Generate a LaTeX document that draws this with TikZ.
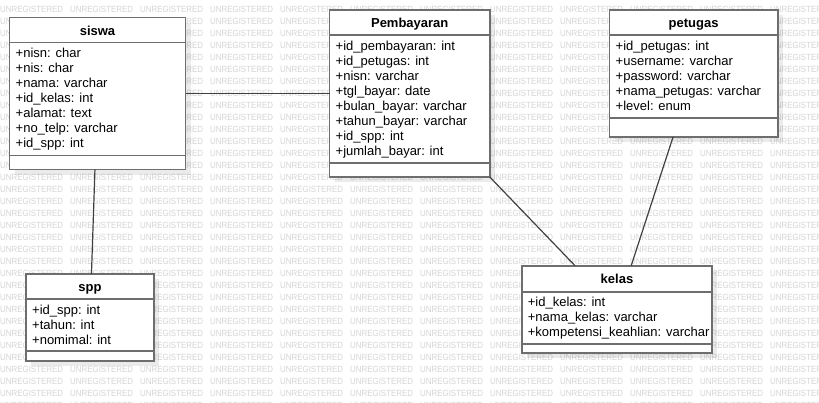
\documentclass[tikz,border=0pt]{standalone}
\usepackage{fontspec}
\setmainfont{Liberation Sans}
\usetikzlibrary{calc,shadows}
\definecolor{boxline}{HTML}{6E6E6E}
\definecolor{linkgray}{HTML}{404040}
\definecolor{wmgray}{HTML}{D4D4D4}
\begin{document}
\begin{tikzpicture}[x=1pt,y=-1pt,
  classbox/.style={draw=boxline,line width=1.8pt,fill=white,anchor=north west,
    inner sep=0pt,outer sep=0pt,
    drop shadow={shadow xshift=5pt,shadow yshift=-5pt,fill=black,opacity=.08}},
  classname/.style={font=\fontsize{13}{15}\selectfont\bfseries,anchor=base},
  attr/.style={font=\fontsize{13}{15}\selectfont,anchor=base west,inner sep=0pt},
  sepline/.style={draw=boxline,line width=1.8pt},
  watermark/.style={text=wmgray,font=\fontsize{9}{9}\selectfont,xscale=.88,anchor=west,inner sep=0pt},
  link/.style={draw=linkgray,line width=1.2pt}]
  \useasboundingbox (0,0) rectangle (819,402);
  % watermark, left out where a class box hides it whole
  \foreach \r in {0,...,33}
    \foreach \c in {0,...,11}{
      \pgfmathsetmacro\wx{70*\c}
      \pgfmathsetmacro\wy{9+12*\r}
      \pgfmathtruncatemacro\hidden{
        (\wx>=9.5 && \wx<=122.5 && \wy>=21.5 && \wy<=165.5) ||
        (\wx>=329.5 && \wx<=427 && \wy>=14 && \wy<=173) ||
        (\wx>=609.5 && \wx<=714.7 && \wy>=14 && \wy<=133) ||
        (\wx>=26 && \wx<=91 && \wy>=278 && \wy<=357) ||
        (\wx>=521.7 && \wx<=649.3 && \wy>=269.7 && \wy<=349.3)}
      \ifnum\hidden=0
        \node[watermark] (wm-\r-\c) at (\wx,\wy) {UNREGISTERED};
      \fi
    }

  \node[classbox,minimum width=176,minimum height=152] (siswa) at (9.5,17.5) {};
  \node[classname] (siswa-name) at ($(siswa.north)+(0,17.5)$) {siswa};
  \draw[sepline] ($(siswa.north west)+(0,25)$) -- ($(siswa.north east)+(0,25)$);
  \draw[sepline] ($(siswa.north west)+(0,138)$) -- ($(siswa.north east)+(0,138)$);
  \foreach \a [count=\i] in {+nisn: char,+nis: char,+nama: varchar,+id\_kelas: int,
      +alamat: text,+no\_telp: varchar,+id\_spp: int}
    \node[attr] (siswa-a\i) at ($(siswa.north west)+(6,25+15*\i)$) {\a};

  \node[classbox,minimum width=160.5,minimum height=167] (pembayaran) at (329.5,10) {};
  \node[classname] (pembayaran-name) at ($(pembayaran.north)+(0,17.5)$) {Pembayaran};
  \draw[sepline] ($(pembayaran.north west)+(0,25)$) -- ($(pembayaran.north east)+(0,25)$);
  \draw[sepline] ($(pembayaran.north west)+(0,153)$) -- ($(pembayaran.north east)+(0,153)$);
  \foreach \a [count=\i] in {+id\_pembayaran: int,+id\_petugas: int,+nisn: varchar,
      +tgl\_bayar: date,+bulan\_bayar: varchar,+tahun\_bayar: varchar,+id\_spp: int,
      +jumlah\_bayar: int}
    \node[attr] (pembayaran-a\i) at ($(pembayaran.north west)+(6,25+15*\i)$) {\a};

  \node[classbox,minimum width=168.2,minimum height=127] (petugas) at (609.5,10) {};
  \node[classname] (petugas-name) at ($(petugas.north)+(0,17.5)$) {petugas};
  \draw[sepline] ($(petugas.north west)+(0,25)$) -- ($(petugas.north east)+(0,25)$);
  \draw[sepline] ($(petugas.north west)+(0,108)$) -- ($(petugas.north east)+(0,108)$);
  \foreach \a [count=\i] in {+id\_petugas: int,+username: varchar,+password: varchar,
      +nama\_petugas: varchar,+level: enum}
    \node[attr] (petugas-a\i) at ($(petugas.north west)+(6,25+15*\i)$) {\a};

  \node[classbox,minimum width=128,minimum height=87] (spp) at (26,274) {};
  \node[classname] (spp-name) at ($(spp.north)+(0,17.5)$) {spp};
  \draw[sepline] ($(spp.north west)+(0,25)$) -- ($(spp.north east)+(0,25)$);
  \draw[sepline] ($(spp.north west)+(0,77)$) -- ($(spp.north east)+(0,77)$);
  \foreach \a [count=\i] in {+id\_spp: int,+tahun: int,+nomimal: int}
    \node[attr] (spp-a\i) at ($(spp.north west)+(6,25+15*\i)$) {\a};

  \node[classbox,minimum width=190.6,minimum height=87.6] (kelas) at (521.7,265.7) {};
  \node[classname] (kelas-name) at ($(kelas.north)+(0,17.5)$) {kelas};
  \draw[sepline] ($(kelas.north west)+(0,26)$) -- ($(kelas.north east)+(0,26)$);
  \draw[sepline] ($(kelas.north west)+(0,78.6)$) -- ($(kelas.north east)+(0,78.6)$);
  \foreach \a [count=\i] in {+id\_kelas: int,+nama\_kelas: varchar,
      +kompetensi\_keahlian: varchar}
    \node[attr] (kelas-a\i) at ($(kelas.north west)+(6,26+15*\i)$) {\a};

  \draw[link] (siswa) -- (pembayaran);
  \draw[link] (siswa) -- (spp);
  \draw[link] (pembayaran) -- (kelas);
  \draw[link] (petugas) -- (kelas);
\end{tikzpicture}
\end{document}
